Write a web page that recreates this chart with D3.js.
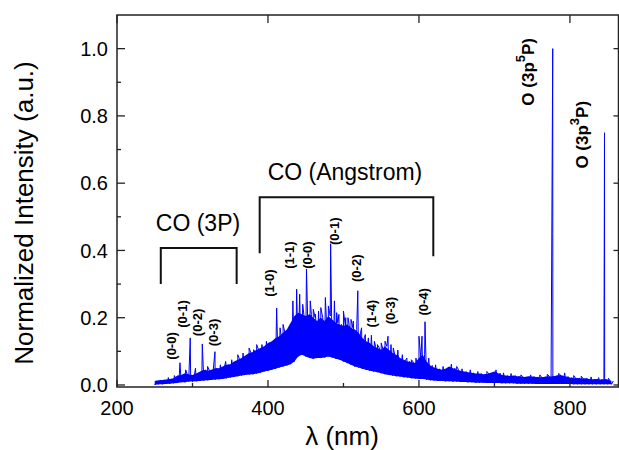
<!DOCTYPE html>
<html>
<head>
<meta charset="utf-8">
<script src="https://cdn.jsdelivr.net/npm/d3@7"></script>
<style>
body { margin: 0; background: #fff; }
text { font-family: Arial, "Liberation Sans", sans-serif; fill: #000; }
</style>
</head>
<body>
<svg id="chart" width="619" height="450"></svg>
<script>
'use strict';

// wavelength grid (nm) with the upper / lower edge of the noisy band
var wl = d3.range(250, 856, 5);
var hi = [0.012,0.014,0.015,0.016,0.018,0.020,0.028,0.030,0.035,0.032,
          0.030,0.034,0.040,0.045,0.042,0.045,0.050,0.050,0.055,0.060,
          0.062,0.070,0.075,0.080,0.088,0.095,0.098,0.105,0.110,0.115,
          0.125,0.130,0.140,0.145,0.155,0.165,0.185,0.205,0.215,0.210,
          0.205,0.210,0.200,0.190,0.200,0.190,0.205,0.195,0.185,0.180,
          0.175,0.180,0.170,0.165,0.155,0.140,0.130,0.125,0.115,0.110,
          0.105,0.115,0.105,0.095,0.090,0.080,0.075,0.070,0.068,0.065,
          0.080,0.090,0.070,0.058,0.052,0.048,0.045,0.048,0.055,0.050,
          0.045,0.042,0.040,0.038,0.036,0.034,0.034,0.032,0.033,0.036,
          0.040,0.035,0.030,0.028,0.027,0.028,0.026,0.025,0.024,0.026,
          0.025,0.024,0.023,0.024,0.026,0.025,0.027,0.030,0.028,0.025,
          0.022,0.020,0.021,0.019,0.020,0.018,0.017,0.018,0.016,0.017,
          0.016,0.012];
var lo = [0.000,0.002,0.002,0.003,0.004,0.005,0.006,0.008,0.008,0.010,
          0.010,0.011,0.012,0.013,0.014,0.015,0.016,0.017,0.018,0.020,
          0.022,0.024,0.026,0.028,0.030,0.031,0.032,0.034,0.036,0.040,
          0.042,0.045,0.048,0.052,0.055,0.058,0.062,0.070,0.085,0.090,
          0.085,0.080,0.078,0.080,0.080,0.082,0.085,0.082,0.078,0.075,
          0.070,0.065,0.060,0.055,0.052,0.048,0.045,0.042,0.040,0.038,
          0.035,0.032,0.030,0.028,0.026,0.025,0.023,0.022,0.020,0.019,
          0.018,0.018,0.016,0.014,0.013,0.012,0.012,0.011,0.011,0.010,
          0.010,0.009,0.009,0.008,0.008,0.007,0.007,0.007,0.006,0.006,
          0.006,0.006,0.005,0.005,0.005,0.005,0.004,0.004,0.004,0.004,
          0.004,0.003,0.003,0.003,0.003,0.003,0.003,0.003,0.003,0.003,
          0.003,0.002,0.002,0.002,0.002,0.002,0.002,0.002,0.002,0.002,
          0.002,0.002];

// sharp emission lines [nm, intensity]
var peaks = [[268,0.022],[276,0.028],[283.4,0.066],[291,0.045],[297,0.140],[304,0.050],
  [313,0.122],[320,0.055],[329.8,0.099],[337,0.060],[344,0.070],[352,0.075],[360,0.090],
  [367,0.095],[375,0.110],[381,0.105],[385,0.120],[392,0.120],[398,0.130],[405,0.125],
  [411.5,0.229],[416,0.170],[420,0.180],[427,0.165],[433,0.250],[438,0.285],
  [442,0.270],[446,0.240],[451,0.345],[456,0.250],[460,0.225],[463,0.210],[467,0.220],
  [470,0.230],[476,0.260],[480,0.235],[483,0.420],[488,0.250],[491,0.215],[494,0.210],
  [500,0.220],[503,0.200],[506,0.200],[510,0.195],[513,0.190],[519,0.280],[524,0.170],
  [529,0.150],[533,0.140],[537,0.148],[541,0.130],[545,0.120],[550,0.125],[555,0.130],
  [559,0.145],[563,0.120],[566,0.110],[572,0.104],[578,0.090],[584,0.080],[590,0.075],
  [596,0.080],[600,0.145],[604,0.145],[608,0.188],[613,0.080],[622,0.060],[632,0.055],
  [643,0.062],[650,0.055],[657,0.048],[668,0.045],[678,0.040],[690,0.040],[702,0.045],
  [712,0.036],[722,0.034],[735,0.030],[748,0.030],[760,0.030],[770,0.032],
  [777.2,1.0],[777.3,0.45],[777.4,0.01],[785,0.034],[793,0.036],[805,0.028],
  [815,0.026],[828,0.024],[838,0.022],[845.8,0.75],[846,0.01],[851,0.020]];

// band labels [text, nm, intensity]
var bandLabels = [['(0-0)',272.8,0.116],['(0-1)',287.4,0.211],['(0-2)',307.3,0.186],
  ['(0-3)',327.2,0.156],['(1-0)',402.6,0.303],['(1-1)',429.1,0.386],
  ['(0-0)',453.0,0.386],['(0-1)',488.7,0.457],['(0-2)',517.9,0.347],
  ['(1-4)',537.7,0.212],['(0-3)',562.9,0.221],['(0-4)',606.6,0.247]];

// brackets [left nm, right nm, top, left end, right end]
var brackets = [[258,358.5,0.407,0.300,0.300],[389,619,0.558,0.392,0.383]];
var groupLabels = [['CO (3P)',307.3,0.457],['CO (Angstrom)',502,0.609]];
var oLabels = [['5',744.4,0.931],['3',815.9,0.744]];

var xTicks = [200,400,600,800];
var xMinor = [300,500,700];
var yTicks = [0.0,0.2,0.4,0.6,0.8,1.0];
var yMinor = [0.1,0.3,0.5,0.7,0.9];

var svg = d3.select('#chart');
var x = d3.scaleLinear().domain([200,865]).range([117,619]);
var y = d3.scaleLinear().domain([-0.006,1.1]).range([387,15]);

// filled noise band between the two edges
svg.append('path')
	.datum(wl)
	.attr('fill','#0000ff')
	.attr('d', d3.area()
		.x(function(d){ return x(d); })
		.y0(function(d,i){ return y(lo[i]); })
		.y1(function(d,i){ return y(hi[i]); }));

// spectrum: alternate lower and upper edge, then insert the lines
var pts = [];
wl.forEach(function(w,i){
	pts.push([w, lo[i]]);
	pts.push([w+2.5, hi[i]]);
});
peaks.forEach(function(p){ pts.push(p); });
pts.sort(function(a,b){ return a[0]-b[0]; });

svg.append('path')
	.datum(pts)
	.attr('fill','none')
	.attr('stroke','#0000ff')
	.attr('stroke-width',1)
	.attr('d', d3.line().x(function(d){ return x(d[0]); }).y(function(d){ return y(d[1]); }));

// frame
var x0 = x.range()[0], x1 = x.range()[1]-0.5, y0 = y.range()[0], y1 = y.range()[1];
svg.append('rect')
	.attr('x',x0).attr('y',y1).attr('width',x1-x0).attr('height',y0-y1)
	.attr('fill','none').attr('stroke','#222').attr('stroke-width',1.5);

function tick(x1_,y1_,x2_,y2_){
	svg.append('line').attr('x1',x1_).attr('y1',y1_).attr('x2',x2_).attr('y2',y2_)
		.attr('stroke','#222').attr('stroke-width',1.3);
}
xTicks.forEach(function(t){ tick(x(t),y0,x(t),y0-7); tick(x(t),y1,x(t),y1+8); });
xMinor.forEach(function(t){ tick(x(t),y0,x(t),y0-4); });
yTicks.forEach(function(t){ tick(x0,y(t),x0+8,y(t)); tick(x1,y(t),x1-5,y(t)); });
yMinor.forEach(function(t){ tick(x0,y(t),x0+4,y(t)); });

svg.selectAll('.xl').data(xTicks).enter().append('text')
	.attr('x', function(d){ return x(d); })
	.attr('y', 415)
	.attr('text-anchor','middle')
	.style('font-size','20px')
	.text(function(d){ return d; });

svg.selectAll('.yl').data(yTicks).enter().append('text')
	.attr('x', 108)
	.attr('y', function(d){ return y(d); })
	.attr('dy','0.36em')
	.attr('text-anchor','end')
	.style('font-size','20px')
	.text(function(d){ return d.toFixed(1); });

svg.append('text')
	.attr('x', 342).attr('y', 445)
	.attr('text-anchor','middle')
	.style('font-size','26px')
	.text('\u03bb (nm)');

svg.append('text')
	.attr('transform','translate(33,213) rotate(-90)')
	.attr('text-anchor','middle')
	.style('font-size','26px')
	.text('Normalized Intensity (a.u.)');

// brackets
brackets.forEach(function(b){
	svg.append('path')
		.attr('d', d3.line()([[x(b[0]),y(b[3])],[x(b[0]),y(b[2])],[x(b[1]),y(b[2])],[x(b[1]),y(b[4])]]))
		.attr('fill','none').attr('stroke','#111').attr('stroke-width',2);
});

svg.selectAll('.gl').data(groupLabels).enter().append('text')
	.attr('x', function(d){ return x(d[1]); })
	.attr('y', function(d){ return y(d[2]); })
	.attr('text-anchor','middle')
	.style('font-size','23px')
	.text(function(d){ return d[0]; });

svg.selectAll('.bl').data(bandLabels).enter().append('text')
	.attr('transform', function(d){ return 'translate(' + x(d[1]) + ',' + y(d[2]) + ') rotate(-90)'; })
	.attr('text-anchor','middle')
	.attr('dominant-baseline','central')
	.style('font-size','13px')
	.style('font-weight','bold')
	.text(function(d){ return d[0]; });

var ol = svg.selectAll('.ol').data(oLabels).enter().append('text')
	.attr('transform', function(d){ return 'translate(' + x(d[1]) + ',' + y(d[2]) + ') rotate(-90)'; })
	.attr('text-anchor','middle')
	.attr('dominant-baseline','central')
	.style('font-size','17px')
	.style('font-weight','bold');
ol.append('tspan').text('O (3p');
ol.append('tspan').attr('baseline-shift','super').style('font-size','13px').text(function(d){ return d[0]; });
ol.append('tspan').text('P)');
</script>
</body>
</html>
